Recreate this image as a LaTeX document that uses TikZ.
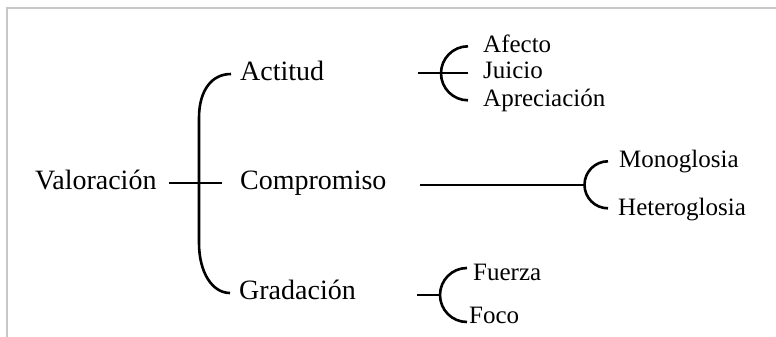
\documentclass[tikz,border=0pt]{standalone}
\usepackage{fontspec}
\setmainfont{Liberation Serif}
\begin{document}
\begin{tikzpicture}[x=1pt,y=1pt,
  big/.style={font=\fontsize{28}{30}\selectfont,inner sep=0pt,text height=12.8pt,text depth=0pt,anchor=west},
  small/.style={font=\fontsize{25}{27}\selectfont,inner sep=0pt,text height=11.5pt,text depth=0pt,anchor=west},
  brace/.style={line width=2.6pt}]
\useasboundingbox (0,0) rectangle (776,-337);
\draw[black!22,line width=1.5pt] (776,-8) -- (7,-8) -- (7,-337);

\node[big] (val) at (35,-183) {Valoración};
\node[big] (act) at (240,-74) {Actitud};
\node[big] (comp) at (240,-183) {Compromiso};
\node[big] (gra) at (239,-293) {Gradación};

\node[small] (afe) at (483,-46.3) {Afecto};
\node[small] (jui) at (483,-73) {Juicio};
\node[small] (apr) at (483,-100.3) {Apreciación};
\node[small] (mono) at (619,-161.3) {Monoglosia};
\node[small] (het) at (618,-209.3) {Heteroglosia};
\node[small] (fue) at (473,-274.3) {Fuerza};
\node[small] (foc) at (469,-317.3) {Foco};

\coordinate (astem) at (418,-73);
\coordinate (cstem) at (420,-184.8);
\coordinate (cfork) at (584.5,-184.8);
\coordinate (gstem) at (417,-295);
\coordinate (gfork) at (440,-295);

% valoracion
\draw[brace] ([xshift=12pt]val.east) -- ([xshift=-18pt]comp.west);
\draw[brace] ([xshift=-9pt]act.west) .. controls +(-19,0) and +(0,28) .. (199,-118)
  -- (199,-243) .. controls +(0,-29) and +(-18,0) .. ([xshift=-9pt]gra.west);

% actitud
\draw[brace] (astem) -- ([xshift=-15pt]jui.west);
\draw[brace] ([xshift=-15pt]afe.west) arc[start angle=90,end angle=270,radius=27];

% compromiso
\draw[brace] (cstem) -- (cfork);
\draw[brace] ([xshift=-11pt]mono.west) arc[start angle=90,end angle=270,radius=23.5];

% gradacion
\draw[brace] (gstem) -- (gfork);
\draw[brace] (467,-268) arc[start angle=90,end angle=270,radius=27];
\end{tikzpicture}
\end{document}
